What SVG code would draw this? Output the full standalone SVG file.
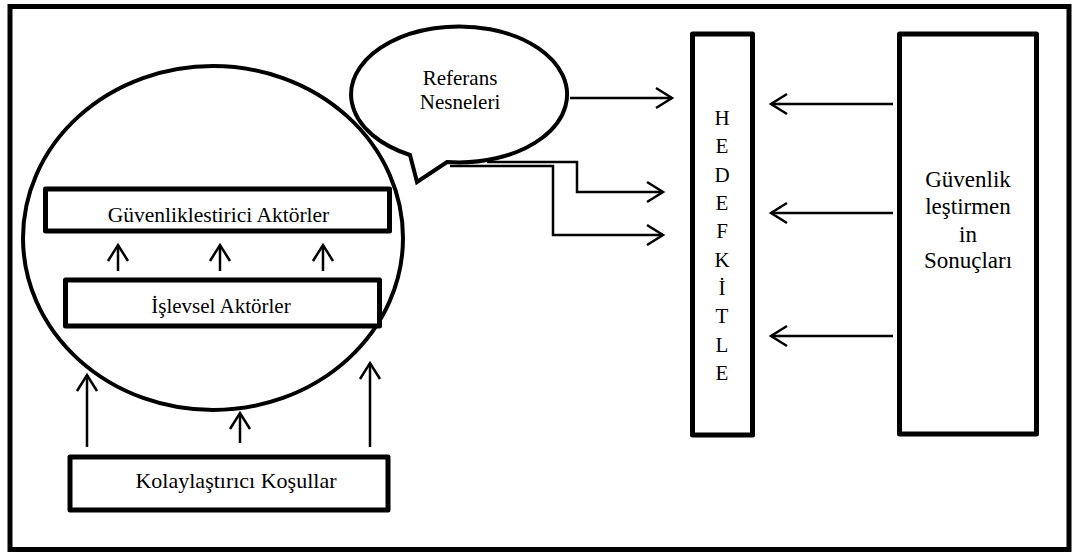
<svg xmlns="http://www.w3.org/2000/svg" width="1072" height="554" viewBox="0 0 1072 554">
<style>
.box{fill:#fff;stroke:#000;stroke-width:5;stroke-linejoin:round}
.ln{fill:none;stroke:#000;stroke-width:2.5;marker-end:url(#ah)}
.t{font-family:"Liberation Serif","Times New Roman",serif;font-size:21px;fill:#000;text-anchor:middle}
</style>
<defs>
<marker id="ah" markerUnits="userSpaceOnUse" markerWidth="24" markerHeight="24" viewBox="-18 -12 22 24" refX="0" refY="0" orient="auto">
<path d="M-16,-10 L0,0 L-16,10" fill="none" stroke="#000" stroke-width="2.5"/>
</marker>
</defs>
<rect x="10" y="6.5" width="1059" height="543" fill="#fff" stroke="#000" stroke-width="5"/>
<g id="cemberi">
<ellipse cx="213" cy="238" rx="190" ry="172" fill="#fff" stroke="#000" stroke-width="4"/>
</g>
<g id="referans">
<path d="M410,155 L417,182 L447,162 A108,68 0 1 0 410,155 Z" fill="#fff" stroke="#000" stroke-width="4" stroke-linejoin="miter"/>
<text class="t" x="460" y="85">Referans</text>
<text class="t" x="460" y="109">Nesneleri</text>
</g>
<g id="guvenliklestirici">
<rect class="box" x="45.5" y="189" width="344" height="42"/>
<text class="t" x="218.5" y="222" style="font-size:21.5px">Güvenliklestirici Aktörler</text>
</g>
<g id="islevsel">
<rect class="box" x="65.5" y="280" width="314" height="46"/>
<text class="t" x="221" y="313">İşlevsel Aktörler</text>
</g>
<g id="kolaylastirici">
<rect class="box" x="70" y="457" width="318" height="53"/>
<text class="t" x="236" y="488" style="font-size:22px">Kolaylaştırıcı Koşullar</text>
</g>
<g id="hedefkitle">
<rect class="box" x="692.5" y="34" width="60" height="401"/>
<text class="t" x="722" y="125">H</text>
<text class="t" x="722" y="153">E</text>
<text class="t" x="722" y="182">D</text>
<text class="t" x="722" y="210">E</text>
<text class="t" x="722" y="238">F</text>
<text class="t" x="722" y="267">K</text>
<text class="t" x="722" y="295">İ</text>
<text class="t" x="722" y="323">T</text>
<text class="t" x="722" y="352">L</text>
<text class="t" x="722" y="380">E</text>
</g>
<g id="sonuclari">
<rect class="box" x="899.5" y="34" width="137" height="400"/>
<text class="t" x="968" y="187" style="font-size:23px">Güvenlik</text>
<text class="t" x="968" y="214" style="font-size:23px">leştirmen</text>
<text class="t" x="968" y="242" style="font-size:23px">in</text>
<text class="t" x="968" y="268" style="font-size:23px">Sonuçları</text>
</g>
<g id="connectors">
<path class="ln" d="M570,98 L672,98"/>
<path class="ln" d="M487,162 L577,162 L577,192 L663,192"/>
<path class="ln" d="M450,166 L553,166 L553,235 L663,235"/>
<path class="ln" d="M893,104 L771,104"/>
<path class="ln" d="M893,213 L771,213"/>
<path class="ln" d="M893,336 L771,336"/>
<path class="ln" d="M118,271 L118,245"/>
<path class="ln" d="M220,271 L220,245"/>
<path class="ln" d="M323,271 L323,245"/>
<path class="ln" d="M87,447 L87,375"/>
<path class="ln" d="M240,443 L240,413"/>
<path class="ln" d="M370,447 L370,363"/>
</g>
</svg>
